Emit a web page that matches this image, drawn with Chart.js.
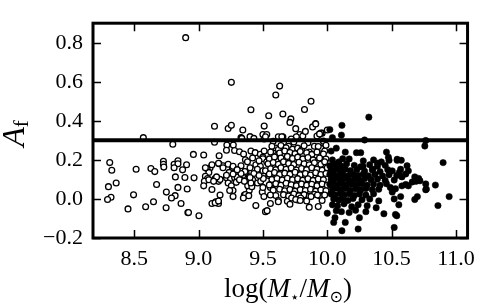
<!DOCTYPE html>
<html>
<head>
<meta charset="utf-8">
<script src="https://cdn.jsdelivr.net/npm/chart.js@4.4.1/dist/chart.umd.min.js"></script>
<style>
html, body { margin: 0; padding: 0; background: #fff; }
#wrap { width: 483px; height: 305px; }
</style>
</head>
<body>
<div id="wrap"><canvas id="grafica"></canvas></div>
<script>
// Ejes
const xTicks = [8.5, 9.0, 9.5, 10.0, 10.5, 11.0];
const yTicks = [-0.2, 0.0, 0.2, 0.4, 0.6, 0.8];
const xRange = [8.18, 11.09];
const yRange = [-0.2, 0.9];
const cutLevel = 0.3;

// Galaxias de baja masa (circulos abiertos) [log M, A_f]
const openPoints = [
    [8.571,0.314],[8.80,0.28],[8.31,0.186],[8.326,0.147],[8.515,0.152],[8.63,0.156],[8.66,0.14],
    [8.727,0.193],[8.727,0.178],[8.73,0.163],[8.81,0.178],[8.84,0.195],[8.84,0.18],[8.81,0.16],
    [8.876,0.149],[8.907,0.175],[8.82,0.113],[8.894,0.11],[8.36,0.082],[8.30,0.063],[8.674,0.074],
    [8.84,0.059],[8.912,0.051],[8.75,0.035],[8.495,0.021],[8.818,0.017],[8.79,0.005],[8.32,0.009],
    [8.293,-0.003],[8.65,-0.014],[8.864,-0.023],[8.589,-0.04],[8.452,-0.051],[8.748,-0.045],[8.917,-0.07],
    [8.90,0.826],[9.255,0.597],[9.63,0.578],[9.60,0.532],[9.874,0.50],[9.407,0.457],[9.545,0.426],
    [9.655,0.435],[9.823,0.458],[9.717,0.41],[9.71,0.392],[9.91,0.386],
    [9.124,0.372],[9.23,0.361],[9.255,0.377],[9.344,0.353],[9.33,0.314],[9.40,0.319],[9.43,0.31],
    [9.5,0.33],[9.51,0.307],[9.51,0.373],[9.53,0.33],[9.52,0.318],[9.62,0.318],[9.655,0.318],
    [9.755,0.36],[9.786,0.33],[9.76,0.318],[9.81,0.322],[9.886,0.369],[9.91,0.384],[9.937,0.33],
    [9.96,0.337],[10.0,0.353],[9.83,0.346],[9.95,0.338],[9.124,0.29],
    [9.336,0.31],[9.647,0.318],[9.72,0.307],[9.92,0.322],[9.94,0.333],
    [9.22,0.276],[9.27,0.276],[9.217,0.249],[9.28,0.248],[9.318,0.242],[8.96,0.228],[9.04,0.225],
    [9.16,0.221],[9.407,0.245],[9.44,0.237],[9.48,0.229],[9.50,0.214],[9.364,0.201],[9.60,0.261],
    [9.62,0.253],[9.61,0.223],[9.70,0.27],[9.73,0.255],[9.77,0.26],[9.8,0.25],[9.86,0.24],
    [9.9,0.27],[9.95,0.26],[9.98,0.245],
    [9.16,0.18],[9.19,0.17],[9.09,0.16],[9.066,0.156],[9.263,0.16],[9.445,0.175],[9.48,0.167],
    [9.457,0.152],[9.5,0.144],[9.08,0.136],[9.053,0.116],[9.07,0.105],[9.045,0.09],[8.965,0.108],
    [9.128,0.105],[9.155,0.09],[9.167,0.1],[9.217,0.108],[9.248,0.105],[9.28,0.11],[9.30,0.113],
    [9.23,0.082],[9.255,0.067],[9.293,0.085],[9.318,0.098],[9.356,0.121],[9.382,0.105],[9.42,0.098],
    [9.458,0.082],[9.483,0.09],[9.04,0.067],[9.104,0.048],[9.268,0.043],[9.242,0.043],[9.356,0.02],
    [9.394,0.043],[9.382,0.067],[9.414,0.063],[9.167,0.02],[9.104,-0.023],[9.134,-0.014],[9.155,-0.023],
    [9.495,0.035],[9.508,0.012],[9.445,-0.034],[8.922,-0.07],[9.003,-0.086],[9.52,-0.065],
    [9.053,0.16],[9.104,0.175],[9.155,0.183],[9.19,0.16],[9.23,0.178],[9.268,0.167],[9.238,0.136],
    [9.268,0.128],[9.217,0.121],[9.14,0.113],[9.08,0.098],[9.117,0.09],[9.339,0.144],[9.369,0.136],
    [9.394,0.113],[9.356,0.09],[9.407,0.082],[9.364,0.023],[9.39,0.017],[9.348,0.005],[9.129,-0.019],
    [9.155,-0.011],[9.268,0.012],
    [9.51,0.245],[9.5,0.206],[9.53,0.19],[9.52,0.144],[9.545,0.12],[9.503,0.105],[9.57,0.082],
    [9.5,0.059],[9.558,0.059],[9.35,0.23],[9.38,0.19],[9.42,0.21],[9.47,0.195],[9.33,0.17],
    [9.40,0.16],[9.36,0.14],[9.43,0.13],[9.47,0.12],[9.40,0.11],[9.33,0.13],[9.30,0.15],
    [9.58,0.295],[9.66,0.29],[9.74,0.292],[9.85,0.288],[9.97,0.296],
    [9.57,0.27],[9.64,0.274],[9.68,0.262],[9.82,0.272],[9.93,0.268],[9.99,0.275],
    [9.56,0.24],[9.63,0.235],[9.67,0.245],[9.71,0.238],[9.75,0.232],[9.79,0.243],[9.84,0.236],
    [9.88,0.228],[9.92,0.24],[9.97,0.23],
    [9.55,0.205],[9.59,0.215],[9.64,0.21],[9.69,0.218],[9.73,0.207],[9.77,0.214],[9.81,0.205],
    [9.85,0.212],[9.89,0.2],[9.94,0.21],[9.99,0.204],
    [9.54,0.18],[9.58,0.186],[9.62,0.178],[9.66,0.19],[9.70,0.182],[9.74,0.176],[9.78,0.188],
    [9.82,0.18],[9.86,0.175],[9.90,0.185],[9.95,0.178],[9.98,0.19],
    [9.56,0.155],[9.6,0.15],[9.64,0.16],[9.68,0.152],[9.72,0.158],[9.76,0.148],[9.8,0.156],
    [9.84,0.15],[9.88,0.16],[9.92,0.152],[9.96,0.147],[10.0,0.16],
    [9.55,0.128],[9.59,0.135],[9.63,0.125],[9.67,0.132],[9.71,0.127],[9.75,0.137],[9.79,0.124],
    [9.83,0.13],[9.87,0.122],[9.91,0.134],[9.95,0.125],[9.99,0.13],
    [9.57,0.1],[9.61,0.105],[9.65,0.097],[9.69,0.106],[9.73,0.098],[9.77,0.104],[9.81,0.096],
    [9.85,0.103],[9.89,0.095],[9.93,0.102],[9.97,0.098],
    [9.55,0.072],[9.6,0.078],[9.64,0.07],[9.68,0.08],[9.72,0.073],[9.76,0.068],[9.8,0.077],
    [9.84,0.07],[9.88,0.075],[9.92,0.068],[9.96,0.076],[10.0,0.07],
    [9.58,0.045],[9.63,0.05],[9.67,0.042],[9.71,0.048],[9.75,0.04],[9.79,0.047],[9.83,0.043],
    [9.87,0.05],[9.91,0.04],[9.95,0.046],[9.99,0.042],
    [9.6,0.018],[9.66,0.022],[9.7,0.015],[9.74,0.025],[9.78,0.017],[9.82,0.022],[9.86,0.014],
    [9.9,0.024],[9.94,0.016],[9.98,0.02],
    [9.62,-0.008],[9.69,-0.012],[9.77,-0.005],[9.84,-0.01],[9.96,-0.008],
    [9.533,-0.06],[9.558,-0.023],[9.86,-0.042],[9.93,-0.039],[9.793,0.005],[9.874,0.012],
    [9.924,0.02],[9.723,0.005],[9.558,0.02],[9.62,-0.014],[9.71,-0.027],[9.755,-0.003],[9.79,-0.008]
];

// Galaxias de alta masa (circulos rellenos) [log M, A_f]
const filledPoints = [
    [10.323,0.419],[10.114,0.377],[10.02,0.355],[10.11,0.327],[10.04,0.314],[10.29,0.302],
    [10.765,0.299],[10.758,0.271],[10.07,0.26],[10.03,0.245],[10.14,0.24],[10.227,0.237],
    [10.26,0.237],[10.46,0.24],[10.475,0.214],[10.543,0.203],[10.90,0.186],[10.543,0.198],
    [10.62,0.17],[10.63,0.144],[10.57,0.152],[10.505,0.144],[10.61,0.128],[10.58,0.113],
    [10.54,0.12],[10.52,0.097],[10.68,0.113],[10.71,0.105],[10.72,0.093],[10.69,0.09],
    [10.66,0.087],[10.63,0.067],[10.61,0.074],[10.58,0.067],[10.765,0.077],[10.765,0.047],
    [10.84,0.071],[10.947,0.012],[10.86,-0.034],[10.68,-0.003],[10.70,0.012],[10.556,-0.03],
    [10.57,0.012],[10.52,0.0],[10.505,0.035],[10.49,0.059],[10.53,0.052],[10.54,-0.086],
    [10.52,-0.146],[10.53,-0.08],[10.44,-0.076],[10.25,-0.096],[10.24,-0.154],[10.114,-0.163],
    [10.05,-0.12],[10.06,-0.096],[10.0,-0.073],[10.14,-0.12],[10.77,0.05],
    [10.48,0.198],[10.56,0.136],[10.575,0.198],[10.39,0.183],[10.354,0.152],[10.278,0.167],
    [10.09,0.175],[10.12,0.206],
    [10.04,0.2],[10.09,0.19],[10.17,0.205],[10.28,0.195],[10.36,0.2],[10.42,0.19],
    [10.02,0.17],[10.06,0.178],[10.11,0.168],[10.15,0.18],[10.21,0.172],[10.26,0.165],
    [10.33,0.175],[10.39,0.168],[10.45,0.172],
    [10.03,0.148],[10.07,0.155],[10.1,0.143],[10.14,0.152],[10.18,0.145],[10.23,0.15],
    [10.29,0.142],[10.35,0.148],[10.41,0.14],[10.47,0.15],
    [10.02,0.125],[10.05,0.13],[10.09,0.12],[10.12,0.128],[10.16,0.118],[10.2,0.126],
    [10.24,0.12],[10.28,0.128],[10.32,0.118],[10.37,0.125],[10.43,0.118],[10.48,0.124],
    [10.03,0.1],[10.06,0.105],[10.1,0.097],[10.13,0.104],[10.17,0.095],[10.21,0.102],
    [10.25,0.096],[10.29,0.104],[10.34,0.098],[10.39,0.102],[10.45,0.095],
    [10.02,0.075],[10.05,0.08],[10.08,0.072],[10.12,0.078],[10.15,0.07],[10.19,0.077],
    [10.23,0.072],[10.27,0.078],[10.31,0.07],[10.36,0.076],[10.41,0.07],[10.46,0.078],
    [10.04,0.05],[10.07,0.055],[10.11,0.047],[10.14,0.053],[10.18,0.045],[10.22,0.052],
    [10.26,0.046],[10.3,0.053],[10.35,0.047],[10.4,0.05],
    [10.03,0.025],[10.06,0.02],[10.1,0.028],[10.13,0.02],[10.17,0.026],[10.21,0.018],
    [10.25,0.025],[10.3,0.02],[10.36,0.026],
    [10.05,0.0],[10.09,-0.005],[10.12,0.005],[10.16,-0.008],[10.2,0.002],[10.27,-0.004],
    [10.33,0.0],[10.4,-0.01],
    [10.04,-0.03],[10.08,-0.035],[10.13,-0.025],[10.19,-0.04],[10.24,-0.03],[10.31,-0.035],
    [10.38,-0.045],
    [10.07,-0.06],[10.11,-0.065],[10.17,-0.07],[10.22,-0.058],[10.3,-0.065]
];

const toXY = pts => pts.map(p => ({ x: p[0], y: p[1] }));
const fmt = v => (v < 0 ? "\u2212" : "") + Math.abs(v).toFixed(1);

// Marco, marcas hacia dentro y etiquetas de los ejes
const axisDecor = {
    id: "axisDecor",
    afterDraw(chart) {
        const ctx = chart.ctx;
        const a = chart.chartArea;
        const xs = chart.scales.x;
        const ys = chart.scales.y;
        ctx.save();
        ctx.strokeStyle = "#000";

        // marcas
        ctx.lineWidth = 1.5;
        ctx.beginPath();
        xTicks.forEach(v => {
            const px = Math.round(xs.getPixelForValue(v)) + 0.5;
            ctx.moveTo(px, a.bottom); ctx.lineTo(px, a.bottom - 8);
            ctx.moveTo(px, a.top); ctx.lineTo(px, a.top + 8);
        });
        yTicks.forEach(v => {
            const py = Math.round(ys.getPixelForValue(v)) + 0.5;
            ctx.moveTo(a.left, py); ctx.lineTo(a.left + 8, py);
            ctx.moveTo(a.right, py); ctx.lineTo(a.right - 8, py);
        });
        ctx.stroke();

        // marco
        ctx.lineWidth = 3;
        ctx.strokeRect(a.left, a.top, a.right - a.left, a.bottom - a.top);

        ctx.fillStyle = "#000";
        ctx.textBaseline = "alphabetic";

        // etiqueta eje x: log(M*/Msun)
        const parts = [
            { t: "log(", f: "27px 'Liberation Serif'", dy: 0 },
            { t: "M", f: "italic 27px 'Liberation Serif'", dy: 0 },
            { t: "\u22C6", f: "15px 'DejaVu Sans'", dy: 5 },
            { t: "/", f: "27px 'Liberation Serif'", dy: 0 },
            { t: "M", f: "italic 27px 'Liberation Serif'", dy: 0 },
            { t: "\u2299", f: "16px 'DejaVu Sans'", dy: 5 },
            { t: ")", f: "27px 'Liberation Serif'", dy: 0 }
        ];
        let total = 0;
        parts.forEach(p => { ctx.font = p.f; p.w = ctx.measureText(p.t).width; total += p.w; });
        let cx = 288 - total / 2;
        parts.forEach(p => {
            ctx.font = p.f;
            ctx.fillText(p.t, cx, 297 + p.dy);
            cx += p.w;
        });

        // etiqueta eje y: A_f
        ctx.translate(24, (a.top + a.bottom) / 2 + 3);
        ctx.rotate(-Math.PI / 2);
        ctx.font = "italic 32px 'Liberation Serif'";
        const wA = ctx.measureText("A").width;
        ctx.font = "21px 'Liberation Serif'";
        const wf = ctx.measureText("f").width;
        const x0 = -(wA + wf) / 2;
        ctx.font = "italic 32px 'Liberation Serif'";
        ctx.fillText("A", x0, 0);
        ctx.font = "21px 'Liberation Serif'";
        ctx.fillText("f", x0 + wA, 4);

        ctx.restore();
    }
};

new Chart(document.getElementById("grafica"), {
    type: "scatter",
    data: {
        datasets: [
            {
                label: "corte",
                type: "line",
                data: [{ x: xRange[0], y: cutLevel }, { x: xRange[1], y: cutLevel }],
                borderColor: "#000",
                borderWidth: 4,
                pointRadius: 0,
                showLine: true,
                order: 0
            },
            {
                label: "alta masa",
                data: toXY(filledPoints),
                pointRadius: 3.2,
                pointBackgroundColor: "#000",
                pointBorderColor: "#000",
                pointBorderWidth: 0.5,
                order: 1
            },
            {
                label: "baja masa",
                data: toXY(openPoints),
                pointRadius: 2.9,
                pointBackgroundColor: "#fff",
                pointBorderColor: "#000",
                pointBorderWidth: 1.3,
                order: 2
            }
        ]
    },
    options: {
        responsive: true,
        maintainAspectRatio: false,
        animation: false,
        events: [],
        layout: { padding: { left: 0, right: 6, top: 1, bottom: 0 } },
        plugins: {
            legend: { display: false },
            tooltip: { enabled: false }
        },
        scales: {
            x: {
                type: "linear",
                min: xRange[0],
                max: xRange[1],
                grid: { display: false, drawTicks: false },
                border: { display: false },
                afterBuildTicks: s => { s.ticks = xTicks.map(v => ({ value: v })); },
                afterFit: s => { s.height = 67; },
                ticks: {
                    padding: 8,
                    color: "#000",
                    font: { family: "'Liberation Serif'", size: 22 },
                    callback: v => fmt(v)
                }
            },
            y: {
                type: "linear",
                min: yRange[0],
                max: yRange[1],
                grid: { display: false, drawTicks: false },
                border: { display: false },
                afterBuildTicks: s => { s.ticks = yTicks.map(v => ({ value: v })); },
                afterFit: s => { s.width = 93; },
                ticks: {
                    padding: 10,
                    color: "#000",
                    font: { family: "'Liberation Serif'", size: 22 },
                    callback: v => fmt(v)
                }
            }
        }
    },
    plugins: [axisDecor]
});
</script>
</body>
</html>
